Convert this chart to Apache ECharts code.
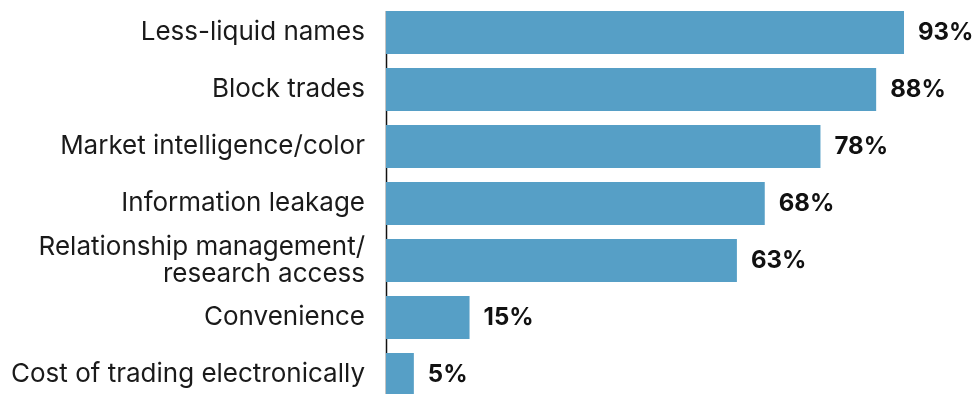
<!DOCTYPE html>
<html><head><meta charset="utf-8">
<script src="https://cdn.jsdelivr.net/npm/echarts@6/dist/echarts.min.js"></script>
<style>html,body{margin:0;padding:0;background:#fff;overflow:hidden;height:394px}#c{width:976px;height:403px}</style>
</head><body><div id="c"></div>
<script>
const categories = ["Less-liquid names","Block trades","Market intelligence/color","Information leakage","Relationship management/\nresearch access","Convenience","Cost of trading electronically"];
const values = [93,88,78,68,63,15,5];
const FONT = "Inter, 'Noto Sans', sans-serif";
const chart = echarts.init(document.getElementById('c'), null, {renderer:'canvas'});
chart.setOption({
  animation:false,
  grid:{left:386, top:4, width:557, height:399, containLabel:false},
  xAxis:{type:'value', min:0, max:100, show:false},
  yAxis:{type:'category', inverse:true, data:categories,
    axisLine:{show:false}, axisTick:{show:false},
    axisLabel:{margin:21, color:'#1a1a1a', fontFamily:FONT, fontSize:26, lineHeight:27, align:'right', padding:[4,0,0,0]}},
  series:[{type:'bar', data:values, barCategoryGap:'24.5%',
    itemStyle:{color:'#569fc6'},
    label:{show:true, position:'right', distance:14, formatter:'{c}%', color:'#111', fontFamily:FONT, fontWeight:'bold', fontSize:24, padding:[3,0,0,0]}}],
  graphic:[{type:'line', shape:{x1:386.5,y1:11,x2:386.5,y2:394}, style:{stroke:'#111', lineWidth:1.5}}]
});
</script></body></html>
